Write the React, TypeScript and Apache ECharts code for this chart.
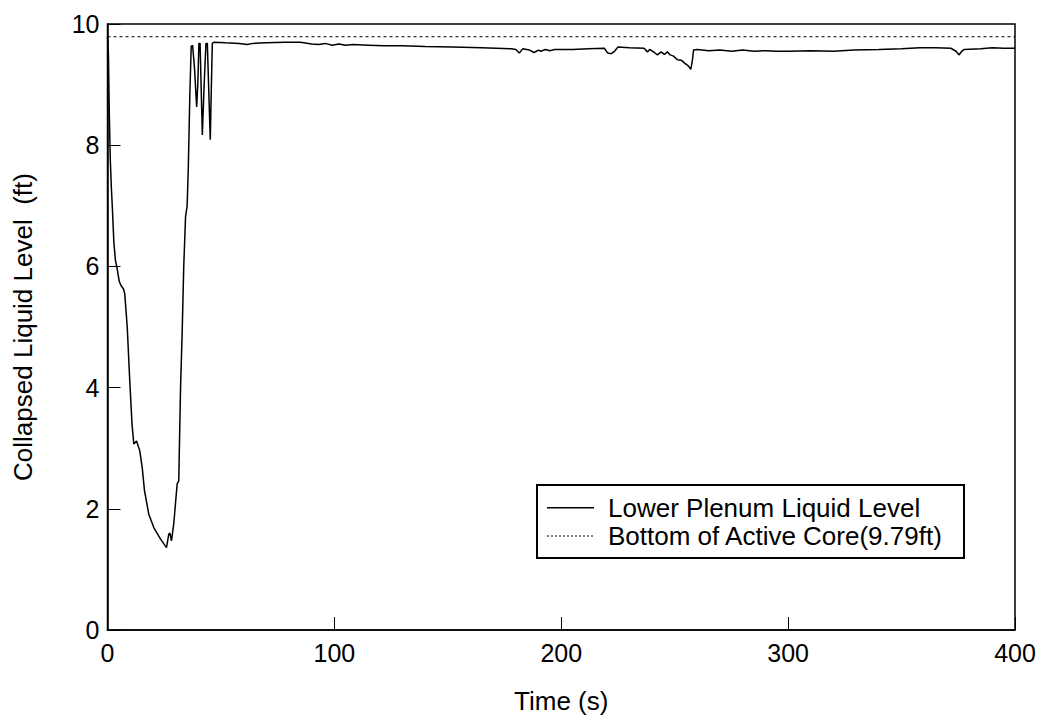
import React, { useEffect, useRef } from "react";
import * as echarts from "echarts";

const timeS: number[] = [
  0, 0.4, 0.8, 1.2, 1.7, 2.1, 2.8, 3.5, 4.3, 5.2, 6.0, 7.0, 7.6, 8.7, 9.8, 10.8, 11.6, 12.8, 14.2, 15.3,
  16.3, 18.2, 20.4, 23.4, 26.0, 27.0, 27.5, 28.2, 29.2, 30.7, 31.4, 32.2, 32.9, 33.6, 34.4, 35.1, 35.6, 36.3, 36.9, 37.5,
  38.3, 39.3, 39.8, 40.3, 40.8, 41.8, 42.6, 43.4, 44.0, 45.3, 45.8, 46.2, 47, 52, 58, 61.6, 64, 70, 78, 85,
  90, 93, 96, 99, 102, 105, 108, 115, 122, 130, 140, 152, 165, 178, 180, 181.5, 183, 186, 188, 190,
  191, 193, 195, 197, 205, 212, 219, 220.5, 222, 223.5, 225, 230, 236.5, 238, 239, 241, 242.4, 244, 245.5, 246.8,
  248, 249.5, 251.2, 253, 254.5, 256, 257.1, 257.8, 258.3, 260, 265, 270, 275, 280, 285, 290, 295, 300, 310, 320,
  329, 340, 350, 358, 365, 371.7, 374, 375.4, 376.5, 377.6, 385, 390, 395, 400
];

const levelFt: number[] = [
  9.79, 9.5, 8.5, 7.8, 7.3, 7.0, 6.4, 6.1, 5.95, 5.75, 5.68, 5.63, 5.55, 5.0, 4.12, 3.4, 3.07, 3.12, 2.96, 2.68,
  2.3, 1.91, 1.69, 1.5, 1.36, 1.58, 1.6, 1.47, 1.75, 2.41, 2.46, 4.0, 4.89, 5.99, 6.82, 7.0, 7.6, 8.85, 9.63, 9.65,
  9.3, 8.63, 9.0, 9.68, 9.68, 8.17, 9.0, 9.68, 9.68, 8.09, 9.0, 9.68, 9.7, 9.69, 9.68, 9.66, 9.68, 9.69, 9.7, 9.7,
  9.67, 9.66, 9.68, 9.65, 9.67, 9.65, 9.66, 9.65, 9.64, 9.64, 9.63, 9.62, 9.61, 9.59, 9.58, 9.52, 9.59, 9.57, 9.53, 9.57,
  9.55, 9.58, 9.56, 9.58, 9.58, 9.59, 9.6, 9.52, 9.51, 9.55, 9.62, 9.61, 9.6, 9.54, 9.58, 9.53, 9.49, 9.54, 9.5, 9.54,
  9.49, 9.47, 9.41, 9.4, 9.35, 9.31, 9.25, 9.4, 9.57, 9.58, 9.56, 9.57, 9.55, 9.57, 9.55, 9.56, 9.55, 9.55, 9.56, 9.55,
  9.57, 9.58, 9.59, 9.61, 9.61, 9.6, 9.55, 9.49, 9.55, 9.58, 9.59, 9.61, 9.6, 9.6
];

const coreBottomFt = 9.79;
const xTicks = [0, 100, 200, 300, 400];
const yTicks = [0, 2, 4, 6, 8, 10];
const seriesNames = ["Lower Plenum Liquid Level", "Bottom of Active Core(9.79ft)"];

const FONT = "'Liberation Sans', Arial, Helvetica, sans-serif";

export default function App() {
  const ref = useRef<HTMLDivElement>(null);
  useEffect(() => {
    if (!ref.current) return;
    const chart = echarts.init(ref.current, undefined, { renderer: "svg" });
    const mainData = timeS.map((t, i) => [t, levelFt[i]]);
    const coreData = [
      [xTicks[0], coreBottomFt],
      [xTicks[xTicks.length - 1], coreBottomFt],
    ];
    const lgX = 536;
    const lgY = 484;
    const rowY = [22.7, 51];
    chart.setOption({
      animation: false,
      backgroundColor: "#fff",
      textStyle: { fontFamily: FONT, color: "#000" },
      grid: {
        left: 107.5,
        right: 26,
        top: 24,
        bottom: 89,
        show: true,
        borderColor: "#000",
        borderWidth: 1.5,
      },
      graphic: [
        {
          type: "group",
          left: lgX,
          top: lgY,
          z: 100,
          children: [
            {
              type: "rect",
              shape: { x: 0, y: 0, width: 427, height: 73 },
              style: { fill: "#fff", stroke: "#000", lineWidth: 2 },
            },
            {
              type: "line",
              shape: { x1: 10, y1: rowY[0], x2: 57, y2: rowY[0] },
              style: { stroke: "#000", lineWidth: 1.5 },
            },
            {
              type: "line",
              shape: { x1: 10, y1: rowY[1], x2: 57, y2: rowY[1] },
              style: { stroke: "#000", lineWidth: 1, lineDash: [2, 2] },
            },
            {
              type: "text",
              x: 71,
              y: rowY[0],
              style: {
                text: seriesNames[0],
                font: `26px ${FONT}`,
                fill: "#000",
                verticalAlign: "middle",
                align: "left",
              },
            },
            {
              type: "text",
              x: 71,
              y: rowY[1],
              style: {
                text: seriesNames[1],
                font: `26px ${FONT}`,
                fill: "#000",
                verticalAlign: "middle",
                align: "left",
              },
            },
          ],
        },
      ],
      xAxis: {
        type: "value",
        min: xTicks[0],
        max: xTicks[xTicks.length - 1],
        interval: 100,
        name: "Time (s)",
        nameLocation: "middle",
        nameGap: 58,
        nameTextStyle: { fontSize: 26, fontFamily: FONT, color: "#000" },
        axisLine: { show: true, lineStyle: { color: "#000", width: 1.5 } },
        axisTick: { show: true, inside: true, length: 13, lineStyle: { color: "#000", width: 1 } },
        axisLabel: { fontSize: 25, fontFamily: FONT, color: "#000", margin: 10 },
        splitLine: { show: false },
      },
      yAxis: {
        type: "value",
        min: yTicks[0],
        max: yTicks[yTicks.length - 1],
        interval: 2,
        name: "Collapsed Liquid Level  (ft)",
        nameLocation: "middle",
        nameGap: 72,
        nameTextStyle: { fontSize: 26, fontFamily: FONT, color: "#000" },
        axisLine: { show: true, lineStyle: { color: "#000", width: 1.5 } },
        axisTick: { show: true, inside: true, length: 13, lineStyle: { color: "#000", width: 1 } },
        axisLabel: { fontSize: 25, fontFamily: FONT, color: "#000", margin: 8 },
        splitLine: { show: false },
      },
      series: [
        {
          name: seriesNames[0],
          type: "line",
          data: mainData,
          symbol: "none",
          lineStyle: { color: "#000", width: 1.5 },
          itemStyle: { color: "#000" },
        },
        {
          name: seriesNames[1],
          type: "line",
          data: coreData,
          symbol: "none",
          lineStyle: { color: "#000", width: 1, type: [3, 3] },
          itemStyle: { color: "#000" },
        },
      ],
    });
    return () => chart.dispose();
  }, []);
  return (
    <div
      ref={ref}
      style={{ position: "fixed", left: 0, top: 0, width: 1041, height: 719, background: "#fff" }}
    />
  );
}
